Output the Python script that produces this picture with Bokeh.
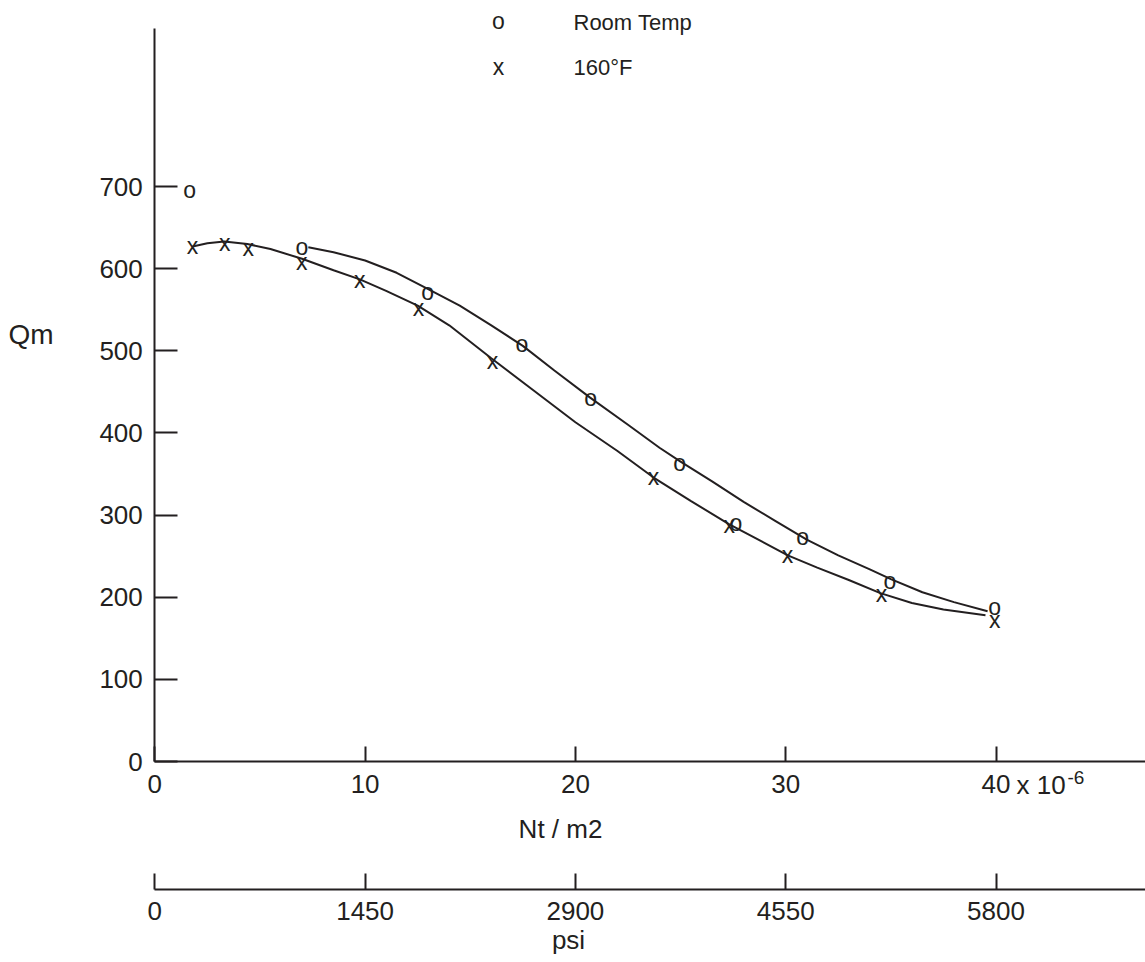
from bokeh.plotting import figure
from bokeh.models import Range1d, LinearAxis, FixedTicker, Label, ColumnDataSource
from bokeh.core.properties import value
from bokeh.embed import file_html
from bokeh.resources import INLINE

# ---------------- data ----------------
# stress axis ticks (Nt / m2 x 10^-6) and matching psi labels
x_ticks = [0, 10, 20, 30, 40]
x_tick_labels = ["0", "10", "20", "30", "40"]
psi_tick_labels = ["0", "1450", "2900", "4550", "5800"]
y_ticks = [0, 100, 200, 300, 400, 500, 600, 700]

# Room temperature measurements ("o")
room_x = [1.66, 6.99, 12.97, 17.45, 20.73, 24.96, 27.63, 30.81, 34.95, 39.94]
room_y = [696, 626, 571, 508, 442, 364, 290, 273, 220, 188]

# 160 F measurements ("x")
hot_x = [1.79, 3.33, 4.44, 6.99, 9.75, 12.54, 16.06, 23.71, 27.31, 30.09, 34.55, 39.94]
hot_y = [627, 631, 625, 608, 586, 552, 488, 346, 288, 252, 204, 172]

# fitted curves as drawn in the picture
room_curve_x = [7.3, 8.5, 10, 11.5, 13, 14.5, 16, 17.5, 19, 20.7, 22.5, 24, 25,
                26.5, 28, 29.5, 31, 32.5, 34, 35, 36.5, 38, 39.6]
room_curve_y = [626, 620, 610, 595, 575, 555, 531, 506, 476, 443, 410, 382, 365,
                341, 316, 293, 270, 251, 234, 222, 206, 194, 183]
hot_curve_x = [1.8, 2.5, 3.3, 4.4, 5.5, 7, 8.5, 9.75, 11, 12.5, 14, 16, 18, 20,
               22, 23.7, 25.5, 27.3, 28.7, 30.1, 31.5, 33, 34.5, 36, 37.5, 39.5]
hot_curve_y = [627, 631, 633, 630, 624, 612, 598, 587, 573, 555, 531, 491, 452, 413,
               378, 346, 317, 289, 270, 251, 236, 221, 205, 193, 185, 178]

legend_labels = ["Room Temp", "160\u00b0F"]
legend_marks = ["o", "x"]

# ---------------- styling ----------------
INK = "#231f20"
FONT = "Liberation Sans"
W, H = 1145, 962
X0_PX, PX_PER_X = 154.3, 21.03      # canvas px of x=0, px per unit
Y0_PX, PX_PER_Y = 761.0, 0.8214     # canvas px of y=0, px per unit
x_start = -X0_PX / PX_PER_X
x_end = (W - X0_PX) / PX_PER_X
y_end = Y0_PX / PX_PER_Y
y_start = -(H - Y0_PX) / PX_PER_Y
Y_AXIS_TOP = (Y0_PX - 28) / PX_PER_Y
PSI_AXIS_Y = -(889 - Y0_PX) / PX_PER_Y


def sy(py):
    """pixel row -> data y"""
    return (Y0_PX - py) / PX_PER_Y


def sx(px):
    """pixel column -> data x"""
    return (px - X0_PX) / PX_PER_X


p = figure(width=W, height=H, output_backend="svg", toolbar_location=None,
           x_range=Range1d(x_start, x_end), y_range=Range1d(y_start, y_end),
           x_axis_location=None, y_axis_location=None,
           min_border=0, min_border_left=0, min_border_right=0,
           min_border_top=0, min_border_bottom=0)
p.outline_line_color = None
p.xgrid.visible = False
p.ygrid.visible = False
p.background_fill_color = "white"
p.border_fill_color = "white"


def style_axis(ax, tick_in, standoff):
    ax.axis_line_color = INK
    ax.axis_line_width = 2
    ax.major_tick_line_color = INK
    ax.major_tick_line_width = 2
    ax.major_tick_in = tick_in
    ax.major_tick_out = 0
    ax.minor_tick_line_color = None
    ax.major_label_text_font = FONT
    ax.major_label_text_font_size = "26px"
    ax.major_label_text_color = INK
    ax.major_label_standoff = standoff


xaxis = LinearAxis(fixed_location=0, bounds=(0, x_end),
                   ticker=FixedTicker(ticks=x_ticks),
                   major_label_overrides=dict(zip(x_ticks, x_tick_labels)))
style_axis(xaxis, 15, 13)
p.add_layout(xaxis, "below")

psi_axis = LinearAxis(fixed_location=PSI_AXIS_Y, bounds=(0, x_end),
                      ticker=FixedTicker(ticks=x_ticks),
                      major_label_overrides=dict(zip(x_ticks, psi_tick_labels)))
style_axis(psi_axis, 16, 12)
p.add_layout(psi_axis, "below")

yaxis = LinearAxis(fixed_location=0, bounds=(0, Y_AXIS_TOP),
                   ticker=FixedTicker(ticks=y_ticks))
style_axis(yaxis, 23, 12)
p.add_layout(yaxis, "left")

# curves
p.line(room_curve_x, room_curve_y, line_color=INK, line_width=2)
p.line(hot_curve_x, hot_curve_y, line_color=INK, line_width=2)

# point marks as letters
room_src = ColumnDataSource(dict(x=room_x, y=room_y, t=["o"] * len(room_x)))
hot_src = ColumnDataSource(dict(x=hot_x, y=hot_y, t=["x"] * len(hot_x)))
for src in (room_src, hot_src):
    p.text(x="x", y="y", text="t", source=src, text_font=value(FONT),
           text_font_size="23px", text_color=INK, text_align="center",
           text_baseline="middle")

# legend (letters + names)
leg_src = ColumnDataSource(dict(x=[sx(498)] * 2, y=[sy(20.5), sy(66.3)],
                                t=legend_marks))
p.text(x="x", y="y", text="t", source=leg_src, text_font=value(FONT),
       text_font_size="23px", text_color=INK, text_align="center",
       text_baseline="middle")
for lab, py in zip(legend_labels, [21.8, 66.5]):
    p.add_layout(Label(x=sx(573), y=sy(py), text=lab, text_font=FONT,
                       text_font_size="22px", text_color=INK,
                       text_align="left", text_baseline="middle"))

# axis titles and multiplier
p.add_layout(Label(x=sx(53), y=sy(333.5), text="Qm", text_font=FONT,
                   text_font_size="28px", text_color=INK,
                   text_align="right", text_baseline="middle"))
p.add_layout(Label(x=sx(560), y=sy(828), text="Nt / m2", text_font=FONT,
                   text_font_size="26px", text_color=INK,
                   text_align="center", text_baseline="middle"))
p.add_layout(Label(x=sx(568), y=sy(939), text="psi", text_font=FONT,
                   text_font_size="26px", text_color=INK,
                   text_align="center", text_baseline="middle"))
p.add_layout(Label(x=sx(1016), y=sy(784), text="x 10", text_font=FONT,
                   text_font_size="26px", text_color=INK,
                   text_align="left", text_baseline="middle"))
p.add_layout(Label(x=sx(1067), y=sy(777), text="-6", text_font=FONT,
                   text_font_size="19px", text_color=INK,
                   text_align="left", text_baseline="middle"))

open("out.html", "w").write(file_html(p, INLINE))
